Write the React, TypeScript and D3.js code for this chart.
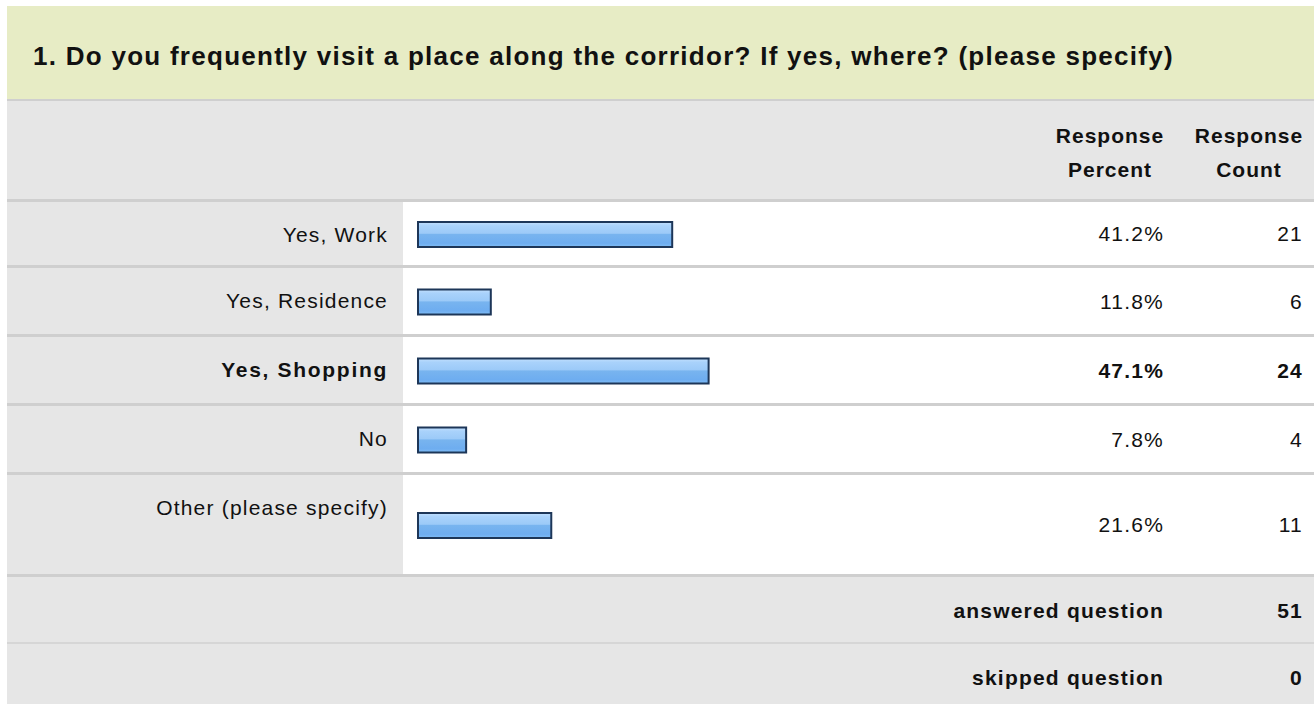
import React from "react";
import * as d3 from "d3";

const title = "1. Do you frequently visit a place along the corridor? If yes, where? (please specify)";
const categories = ["Yes, Work", "Yes, Residence", "Yes, Shopping", "No", "Other (please specify)"];
const percents = [41.2, 11.8, 47.1, 7.8, 21.6];
const counts = [21, 6, 24, 4, 11];
const boldRow = [false, false, true, false, false];
const headerPercent = ["Response", "Percent"];
const headerCount = ["Response", "Count"];
const summaryLabels = ["answered question", "skipped question"];
const summaryValues = [51, 0];

const W = 1314;
const H = 704;
const LEFT = 7;
const LABEL_COL_RIGHT = 403;
const BAR_X0 = 418;
const BAR_FULL = 617;
const PCT_RIGHT = 1164;
const CNT_RIGHT = 1303;
const FONT = "'Liberation Sans', Arial, Helvetica, sans-serif";

export default function App() {
  const x = d3.scaleLinear().domain([0, 100]).range([BAR_X0, BAR_X0 + BAR_FULL]);

  const sep = 3;
  const rowHeights = [63, 66, 66, 66, 99];
  const rowsTop = 202;
  const tops: number[] = [];
  let y = rowsTop;
  rowHeights.forEach((h) => {
    tops.push(y);
    y += h + sep;
  });
  const sumTop = y; // 577
  const sumH = 65;

  const txt = {
    fontFamily: FONT,
    fontSize: 21,
    letterSpacing: 1.2,
    fill: "#111",
  } as const;

  return (
    <svg
      width={W}
      height={H}
      style={{ position: "absolute", left: 0, top: 0, background: "#fff" }}
    >
      <defs>
        <linearGradient id="barGrad" x1="0" y1="0" x2="0" y2="1">
          <stop offset="0" stopColor="#c3e0fd" />
          <stop offset="0.15" stopColor="#a9d2fb" />
          <stop offset="0.45" stopColor="#9ccaf8" />
          <stop offset="0.5" stopColor="#78b4ef" />
          <stop offset="0.85" stopColor="#6eadf0" />
          <stop offset="1" stopColor="#80bdf6" />
        </linearGradient>
      </defs>
      {/* title band */}
      <rect x={LEFT} y={6} width={W - LEFT} height={93} fill="#e7ecc5" />
      <text x={33} y={65} fontFamily={FONT} fontSize={26} fontWeight="bold" fill="#111" letterSpacing={1.27}>
        {title}
      </text>
      <rect x={LEFT} y={99} width={W - LEFT} height={2} fill="#cfcfcf" />
      {/* header */}
      <rect x={LEFT} y={101} width={W - LEFT} height={98} fill="#e6e6e6" />
      {headerPercent.map((t, i) => (
        <text key={"hp" + i} x={1110} y={143 + i * 34} textAnchor="middle" {...txt} fontWeight="bold" letterSpacing={1}>
          {t}
        </text>
      ))}
      {headerCount.map((t, i) => (
        <text key={"hc" + i} x={1249} y={143 + i * 34} textAnchor="middle" {...txt} fontWeight="bold" letterSpacing={1}>
          {t}
        </text>
      ))}
      <rect x={LEFT} y={199} width={W - LEFT} height={sep} fill="#cfcfcf" />
      {/* rows */}
      {categories.map((c, i) => {
        const top = tops[i];
        const h = rowHeights[i];
        const cy = top + h / 2;
        const fw = boldRow[i] ? "bold" : "normal";
        const ls = boldRow[i] ? 1.7 : 1.2;
        return (
          <g key={c}>
            <rect x={LEFT} y={top} width={LABEL_COL_RIGHT - LEFT} height={h} fill="#e6e6e6" />
            <rect x={LABEL_COL_RIGHT} y={top} width={W - LABEL_COL_RIGHT} height={h} fill="#ffffff" />
            <text x={388} y={top + 40} textAnchor="end" {...txt} fontWeight={fw} letterSpacing={ls}>
              {c}
            </text>
            <rect
              x={x(0)}
              y={cy - 11.5}
              width={x(percents[i]) - x(0)}
              height={25}
              fill="url(#barGrad)"
              stroke="#1d3658"
              strokeWidth={2}
            />
            <text x={PCT_RIGHT} y={cy + 7.5} textAnchor="end" {...txt} fontWeight={fw}>
              {percents[i].toFixed(1) + "%"}
            </text>
            <text x={CNT_RIGHT} y={cy + 7.5} textAnchor="end" {...txt} fontWeight={fw}>
              {counts[i]}
            </text>
            <rect x={LEFT} y={top + h} width={W - LEFT} height={sep} fill="#cfcfcf" />
          </g>
        );
      })}
      {/* summary */}
      {summaryLabels.map((s, i) => {
        const top = sumTop + i * (sumH + 2);
        const h = i === 0 ? sumH : H - top;
        const cy = top + sumH / 2;
        return (
          <g key={s}>
            <rect x={LEFT} y={top} width={W - LEFT} height={h} fill="#e6e6e6" />
            <text x={PCT_RIGHT} y={cy + 8} textAnchor="end" {...txt} fontWeight="bold" letterSpacing={1.2}>
              {s}
            </text>
            <text x={CNT_RIGHT} y={cy + 8} textAnchor="end" {...txt} fontWeight="bold" letterSpacing={1.2}>
              {summaryValues[i]}
            </text>
            {i === 0 && <rect x={LEFT} y={top + sumH} width={W - LEFT} height={2} fill="#d6d6d6" />}
          </g>
        );
      })}
    </svg>
  );
}
